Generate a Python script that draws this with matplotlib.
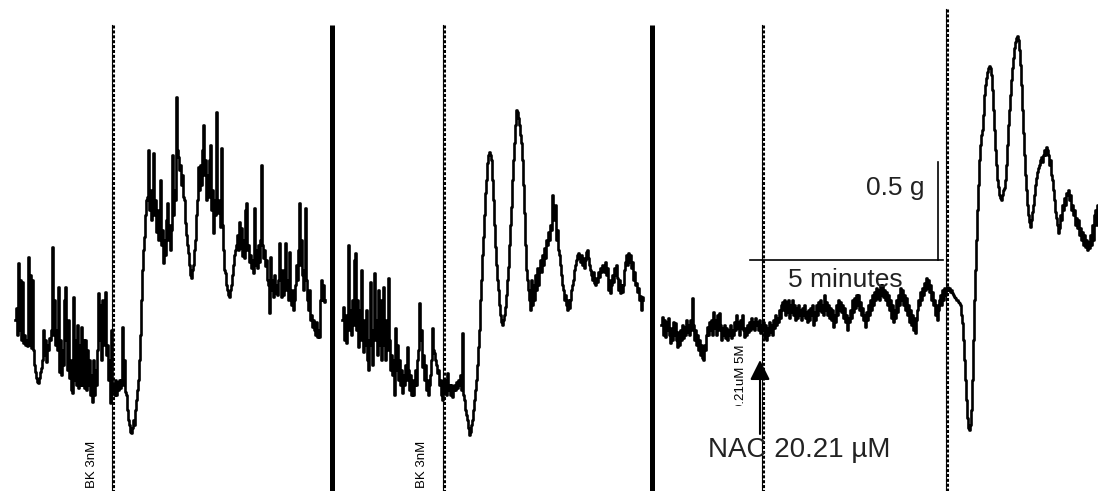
import matplotlib

matplotlib.use("Agg")
import matplotlib.pyplot as plt
import numpy as np
from matplotlib.transforms import Bbox, TransformedBbox

plt.rcParams["font.family"] = ["Liberation Sans", "DejaVu Sans"]

# Traces, in picture units (x = sample position, y = pen position, down is larger)
trace1_start = 15
trace1_y = [
    320, 308, 335, 263, 330, 280, 340, 282, 343, 335, 345, 340, 346, 257, 345, 275, 348, 280, 350, 365,
    372, 378, 382, 383, 378, 372, 368, 360, 330, 355, 340, 362, 345, 350, 338, 340, 330, 247,
    335, 300, 345, 330, 350, 287, 372, 340, 375, 350, 365, 300, 287, 340, 370, 320, 378, 360, 390, 393,
    297, 380, 340, 385, 325, 388, 345, 385, 327, 385, 340, 388, 340, 390, 350, 385, 360, 395, 375, 402,
    360, 395, 370, 385, 350, 293, 340, 305, 360, 300, 345, 320, 292, 355, 345, 380, 360, 403, 330, 385,
    390, 395, 380, 395, 382, 390, 380, 388, 380, 327, 385, 360, 392, 395, 410, 420, 425, 432, 433, 428,
    420, 425, 410, 400, 390, 380, 360, 335, 300, 270, 250, 237, 215, 200, 197, 150, 210, 190, 220, 200,
    153, 215, 200, 232, 210, 240, 225, 180, 245, 230, 263, 240, 255, 220, 203, 240, 225, 250, 230, 155,
    215, 190, 200, 97, 150, 157, 170, 165, 185, 175, 197, 200, 223, 235, 245, 253, 265, 275, 278, 270,
    265, 250, 240, 215, 200, 167, 190, 165, 185, 150, 125, 175, 160, 200, 175, 197, 160, 145, 210, 190,
    233, 200, 215, 112, 205, 213, 200, 227, 148, 225, 250, 270, 273, 285, 290, 295, 297, 290, 285, 275,
    265, 255, 250, 245, 235, 250, 222, 248, 228, 256, 240, 258, 210, 203, 250, 245, 262, 255, 268, 260,
    273, 208, 265, 250, 268, 245, 262, 240, 165, 245, 258, 250, 266, 260, 280, 285, 313, 257, 290, 280,
    297, 275, 293, 285, 295, 280, 243, 280, 297, 270, 295, 285, 243, 290, 280, 300, 252, 292, 305, 290,
    310, 300, 285, 265, 280, 250, 203, 265, 240, 275, 290, 270, 208, 280, 300, 310, 290, 320, 315, 327,
    320, 330, 335, 322, 337, 330, 337, 300, 280, 300, 285, 302, 300,
]

trace2_start = 342
trace2_y = [
    320, 307, 340, 315, 343, 320, 245, 330, 310, 335, 300, 325, 260, 253, 330, 300, 347, 310, 340, 270,
    330, 352, 320, 345, 310, 360, 370, 340, 282, 345, 365, 330, 273, 340, 320, 355, 290, 345, 300, 360,
    330, 287, 345, 360, 320, 350, 278, 340, 370, 355, 375, 360, 395, 328, 370, 345, 380, 360, 385, 370,
    393, 375, 385, 365, 380, 347, 370, 390, 375, 395, 380, 395, 385, 370, 385, 360, 350, 303, 340, 330,
    367, 355, 380, 365, 390, 380, 395, 385, 375, 360, 328, 350, 353, 360, 365, 373, 370, 385, 380, 395,
    400, 380, 392, 380, 395, 373, 390, 385, 395, 385, 397, 390, 385, 390, 382, 388, 380, 385, 375, 390,
    333, 395, 400, 410, 415, 420, 428, 435, 432, 425, 420, 410, 400, 390, 380, 365, 347, 330, 300, 280,
    255, 237, 215, 193, 180, 163, 155, 152, 155, 160, 180, 200, 225, 247, 265, 280, 290, 305, 315, 322,
    325, 320, 315, 307, 295, 280, 267, 245, 225, 207, 180, 160, 143, 125, 110, 112, 118, 125, 135, 143,
    160, 185, 213, 245, 270, 280, 290, 300, 310, 280, 305, 285, 300, 275, 290, 268, 285, 270, 260, 272,
    255, 265, 248, 258, 240, 245, 232, 240, 225, 230, 195, 220, 212, 205, 240, 230, 250, 255, 265, 275,
    285, 290, 300, 295, 305, 310, 300, 308, 300, 290, 285, 280, 270, 265, 260, 255, 253, 258, 262, 255,
    265, 258, 268, 260, 252, 250, 258, 265, 270, 275, 280, 272, 283, 285, 278, 282, 272, 277, 268, 272,
    265, 267, 272, 262, 275, 268, 290, 280, 293, 285, 275, 282, 268, 275, 265, 278, 290, 280, 293, 285,
    292, 285, 270, 262, 255, 265, 253, 262, 255, 268, 262, 280, 272, 285, 283, 292, 288, 300, 296, 310,
    297, 300,
]

trace3_start = 661
trace3_y = [
    325, 317, 335, 320, 337, 322, 330, 318, 335, 343, 328, 340, 322, 335, 323, 340, 347, 332, 345, 330,
    340, 325, 338, 327, 335, 320, 332, 325, 335, 320, 330, 298, 325, 340, 330, 345, 335, 350, 340, 355,
    345, 358, 360, 345, 350, 335, 327, 335, 322, 330, 320, 335, 312, 328, 320, 335, 315, 330, 313, 325,
    340, 328, 335, 325, 338, 328, 340, 330, 335, 325, 338, 330, 335, 322, 330, 315, 328, 322, 335, 320,
    328, 315, 330, 337, 328, 335, 325, 332, 322, 330, 318, 328, 322, 330, 318, 325, 322, 330, 320, 333,
    325, 330, 322, 338, 325, 340, 328, 335, 322, 332, 325, 335, 320, 328, 315, 325, 318, 322, 310, 318,
    305, 302, 310, 300, 315, 302, 312, 300, 318, 305, 312, 300, 315, 305, 320, 308, 318, 305, 315, 310,
    320, 308, 315, 305, 318, 312, 322, 310, 320, 308, 315, 305, 325, 312, 320, 305, 315, 302, 310, 300,
    312, 305, 315, 295, 310, 302, 315, 305, 318, 308, 320, 310, 327, 315, 322, 305, 315, 300, 310, 302,
    312, 305, 318, 308, 322, 315, 330, 318, 322, 310, 318, 300, 312, 298, 308, 295, 305, 295, 310, 302,
    315, 308, 320, 315, 327, 312, 320, 305, 315, 300, 310, 295, 305, 292, 300, 288, 298, 290, 300, 285,
    295, 285, 297, 290, 300, 292, 305, 295, 310, 300, 318, 305, 322, 310, 318, 300, 312, 295, 305, 288,
    300, 290, 305, 295, 310, 298, 315, 305, 322, 310, 325, 315, 330, 318, 333, 320, 310, 300, 305, 292,
    300, 288, 295, 283, 290, 278, 288, 280, 292, 285, 300, 292, 305, 300, 315, 305, 320, 310, 300, 295,
    305, 290, 300, 288, 295, 290, 287, 290, 288, 292, 290, 293, 295, 297, 298, 300, 300, 302, 303, 305,
    315, 323, 340, 360, 380, 400, 418, 428, 430, 425, 410, 380, 340, 300, 270, 240, 210, 185, 160, 145,
    135, 130, 115, 95, 85, 78, 72, 68, 66, 68, 75, 90, 110, 130, 150, 165, 180, 187, 195, 198,
    200, 195, 190, 188, 180, 165, 145, 125, 110, 95, 80, 68, 58, 48, 42, 38, 36, 40, 50, 65,
    85, 110, 133, 155, 175, 190, 205, 215, 222, 227, 220, 212, 205, 195, 185, 178, 172, 168, 165, 160,
    157, 162, 155, 150, 155, 147, 150, 155, 165, 160, 175, 180, 190, 200, 212, 218, 225, 233, 228, 215,
    220, 205, 210, 198, 205, 193, 195, 190, 200, 195, 210, 205, 215, 210, 225, 218, 228, 220, 235, 228,
    240, 232, 245, 235, 247, 240, 250, 242, 248, 235, 245, 225, 240, 215, 210, 225, 205, 220,
]

dotted_x = [113, 444, 763, 947]
dotted_top = [25, 25, 25, 9]
divider_x = [332, 652]
bk_label_x = [92, 422]

fig = plt.figure(figsize=(10.98, 4.91), dpi=100)
ax = fig.add_axes([0, 0, 1, 1])
ax.set_xlim(0, 1098)
ax.set_ylim(491, 0)
ax.axis("off")

# drug-addition markers and panel dividers
for x, top in zip(dotted_x, dotted_top):
    ax.plot([x - 1, x - 1], [top, 491], color="black", lw=0.8)
    ax.plot([x, x], [top, 491], color="black", lw=2.2, linestyle=(0, (1.0, 0.6)))
for x in divider_x:
    ax.plot([x, x], [25, 491], color="black", lw=3.6, solid_capstyle="butt")

for start, ys in ((trace1_start, trace1_y), (trace2_start, trace2_y), (trace3_start, trace3_y)):
    xs = start + np.arange(len(ys))
    ax.plot(xs, ys, color="black", lw=1.9, drawstyle="steps-mid")

for x in bk_label_x:
    ax.text(x, 488, "BK 3nM", rotation=90, ha="center", va="bottom", fontsize=9.5)

# side note next to the NAC arrow, cut off at its lower end as in the original
note = ax.text(741, 411, "0.21uM 5M", rotation=90, ha="center", va="bottom", fontsize=9.5)
note.set_clip_box(TransformedBbox(Bbox([[720, 300], [755, 406]]), ax.transData))
note.set_clip_on(True)

ax.annotate(
    "",
    xy=(760, 360),
    xytext=(760, 434),
    arrowprops=dict(arrowstyle="-|>,head_length=0.6,head_width=0.3", color="black", lw=1.5,
                    mutation_scale=20, shrinkA=0, shrinkB=0),
)
ax.text(708, 457, "NAC 20.21 \u00b5M", ha="left", va="baseline", fontsize=20, color="#222222")

# scale bar
ax.plot([750, 943], [260, 260], color="black", lw=1.2)
ax.plot([938, 938], [162, 260], color="black", lw=1.2)
ax.text(925, 195, "0.5 g", ha="right", va="baseline", fontsize=19, color="#222222")
ax.text(788, 287, "5 minutes", ha="left", va="baseline", fontsize=19, color="#222222")

fig.savefig("out.png", dpi=100)
plt.close(fig)
